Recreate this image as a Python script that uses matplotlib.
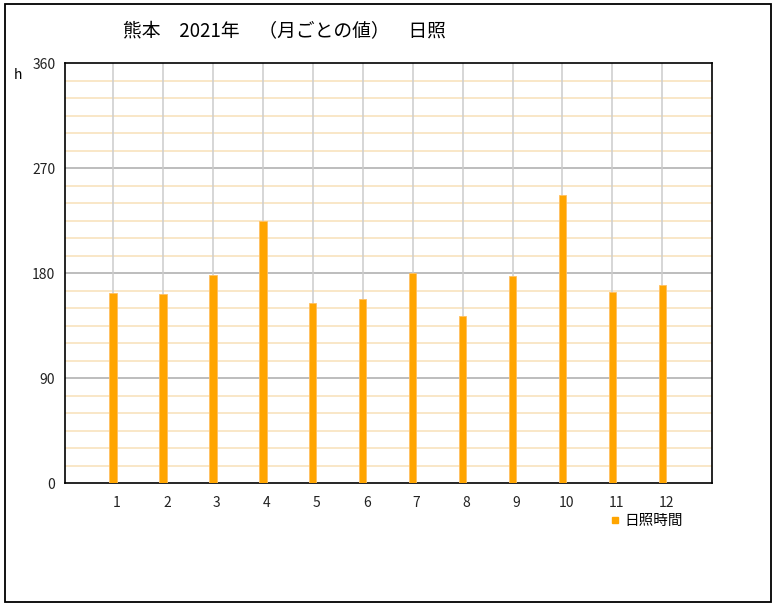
import matplotlib.pyplot as plt
import matplotlib.transforms as mtransforms
from matplotlib.patches import Rectangle
from matplotlib.lines import Line2D

plt.rcParams['font.family'] = ['Noto Sans CJK JP', 'DejaVu Sans']

months = [1, 2, 3, 4, 5, 6, 7, 8, 9, 10, 11, 12]
sunshine = [162.9, 162.0, 178.3, 224.8, 154.5, 158.0, 180.3, 143.4, 177.4, 247.1, 164.0, 170.0]
month_labels = [str(m) for m in months]
y_major = [0, 90, 180, 270, 360]
y_minor = [v for v in range(15, 360, 15) if v % 90 != 0]

W, H = 776, 605
fig = plt.figure(figsize=(W / 100, H / 100), dpi=100)

# outer frame
fig.patches.append(Rectangle((4.5 / W, 1 - 602 / H), 766.5 / W, 598.5 / H,
                             transform=fig.transFigure, fill=False,
                             edgecolor='black', linewidth=1.3))

ax = fig.add_axes([65 / W, 1 - 483.3 / H, (712.3 - 65) / W, (483.3 - 63.3) / H])

ax.set_xlim(0.04, 13.0)
ax.set_ylim(0, 360)

for v in y_minor:
    ax.axhline(v, color='#f9e5c3', linewidth=1.3, zorder=1)
for v in y_major[1:-1]:
    ax.axhline(v, color='#b8b8b8', linewidth=1.3, zorder=1)
for m in months:
    ax.axvline(m, color='#cccccc', linewidth=1.1, zorder=1)

ax.bar(months, sunshine, width=0.15, color='#ffa500', edgecolor='#ffc060',
       linewidth=0.6, zorder=3)

ax.set_xticks(months)
ax.set_xticklabels(month_labels)
ax.set_yticks(y_major)
ax.set_yticklabels([str(v) for v in y_major])
ax.tick_params(axis='both', length=0, labelsize=10, colors='#222222')
ax.tick_params(axis='x', pad=9)
ax.tick_params(axis='y', pad=7)
# month labels sit a little right of the bars in the original
shift = mtransforms.ScaledTranslation(4 / 100, 0, fig.dpi_scale_trans)
for lbl in ax.get_xticklabels():
    lbl.set_transform(lbl.get_transform() + shift)
for s in ax.spines.values():
    s.set_linewidth(1.2)
    s.set_color('black')

fig.text(18 / W, 1 - 75 / H, 'h', fontsize=10, ha='center', va='center')
fig.text(123 / W, 1 - 32 / H, '熊本　2021年　（月ごとの値）　日照',
         fontsize=13.5, ha='left', va='center')

handle = Line2D([], [], marker='s', linestyle='none', color='#ffa500',
                markersize=5)
fig.legend([handle], ['日照時間'], loc='center left',
           bbox_to_anchor=(600 / W, 1 - 521 / H), frameon=False,
           fontsize=10.5, handletextpad=0.2, borderpad=0, handlelength=1.0)

fig.savefig('out.png', dpi=100)
